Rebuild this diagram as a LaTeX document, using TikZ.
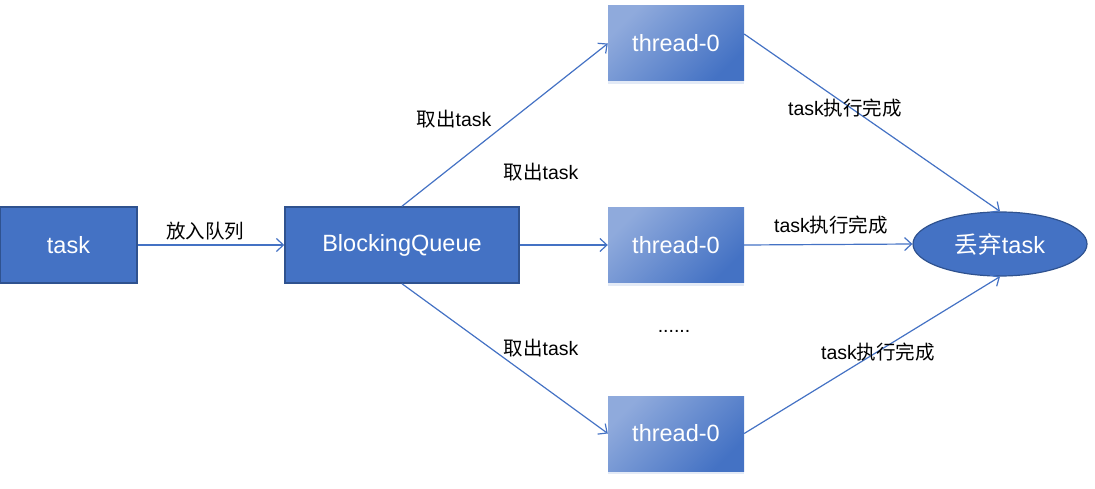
\documentclass[tikz,border=0pt]{standalone}
\usepackage{fontspec}
\setmainfont{Liberation Sans}
\newfontfamily\cjk{Noto Sans CJK SC}
\usetikzlibrary{shapes.geometric,shadows,arrows.meta}
\definecolor{boxblue}{HTML}{4472C4}
\definecolor{boxedge}{HTML}{2F528F}
\definecolor{boxlight}{HTML}{8FAADC}
\newcommand{\zh}[1]{{\cjk #1}}
\tikzset{
	qbox/.style={draw=boxedge, fill=boxblue, line width=1.5pt, inner sep=0pt, text=white, minimum height=76pt, font=\fontsize{23.5}{27}\selectfont},
	thbox/.style={inner sep=0pt, minimum width=136pt, minimum height=75pt, text=white, top color=boxlight, bottom color=boxblue, shading angle=45, drop shadow={shadow xshift=0pt, shadow yshift=-3pt, opacity=0.15, fill=boxblue}, font=\fontsize{23.5}{27}\selectfont},
	lbl/.style={font=\fontsize{19.5}{22}\selectfont, inner sep=0pt},
	link/.style={draw=boxblue, line width=1.2pt, -{Straight Barb[length=7pt, width=13pt]}},
}
\begin{document}
\begin{tikzpicture}[x=1pt, y=-1pt]
		%%%%% START %%%%%
		\useasboundingbox (0, 0) rectangle (1095, 489);
		
		\node[qbox, minimum width=137pt] (task) at (68.5, 245) {task};
		\node[qbox, minimum width=234pt] (queue) at (402, 245) {BlockingQueue};
		
		\node[thbox] (th1) at (676, 43.5) {thread-0};
		\node[thbox] (th2) at (676, 245) {thread-0};
		\node[thbox] (th3) at (676, 433.5) {thread-0};
		
		\node[ellipse, draw=boxedge, fill=boxblue, line width=1.2pt, inner sep=0pt, minimum width=174pt, minimum height=64pt, text=white, font=\fontsize{23.5}{27}\selectfont] (drop) at (1000, 244) {\zh{丢弃}task};
		
		\draw[link] (task) -- (queue);
		\draw[link] (queue.north) -- (th1.west);
		\draw[link] (queue.east) -- (th2.west);
		\draw[link] (queue.south) -- (th3.west);
		
		\draw[link] ([yshift=9.5pt]th1.east) -- (drop.north);
		\draw[link] (th2.east) -- (drop.west);
		\draw[link] (th3.east) -- (drop.south);
		
		\node[lbl] (putin) at (205, 231) {\zh{放入队列}};
		\node[lbl] (take1) at (454, 119) {\zh{取出}task};
		\node[lbl] (take2) at (541, 172) {\zh{取出}task};
		\node[lbl] (take3) at (541, 348) {\zh{取出}task};
		\node[lbl] (done1) at (845, 108) {task\zh{执行完成}};
		\node[lbl] (done2) at (831, 225) {task\zh{执行完成}};
		\node[lbl] (done3) at (878, 352) {task\zh{执行完成}};
		\node[lbl] (more) at (674, 331) {......};
		
		%%%%% END %%%%%
\end{tikzpicture}
\end{document}
